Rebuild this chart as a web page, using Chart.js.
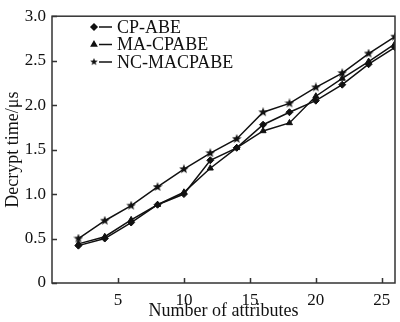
<!DOCTYPE html>
<html>
<head>
<meta charset="utf-8">
<script src="https://cdn.jsdelivr.net/npm/chart.js@4"></script>
<style>
  html, body { margin: 0; padding: 0; background: #fff; }
  #wrap { width: 400px; height: 322px; }
</style>
</head>
<body>
<div id="wrap"><canvas id="decryptChart" width="400" height="322"></canvas></div>
<script>
// attribute counts and decryption time (μs) for each scheme
const attributes = [2, 4, 6, 8, 10, 12, 14, 16, 18, 20, 22, 24, 26];
const cpAbe     = [0.42, 0.50, 0.68, 0.88, 1.00, 1.38, 1.52, 1.78, 1.92, 2.05, 2.23, 2.46, 2.65];
const maCpabe   = [0.44, 0.52, 0.71, 0.88, 1.02, 1.29, 1.52, 1.71, 1.80, 2.10, 2.30, 2.49, 2.69];
const ncMacpabe = [0.50, 0.70, 0.87, 1.08, 1.28, 1.46, 1.62, 1.92, 2.02, 2.20, 2.36, 2.58, 2.77];
const seriesNames = ['CP-ABE', 'MA-CPABE', 'NC-MACPABE'];
const xTicks = [5, 10, 15, 20, 25];
const yTicks = [0, 0.5, 1.0, 1.5, 2.0, 2.5, 3.0];

const FONT = '"Liberation Serif", "Times New Roman", serif';
const INK = '#111';

// small filled five-point star used as a marker
function makeStar(size) {
    const c = document.createElement('canvas');
    c.width = size; c.height = size;
    const g = c.getContext('2d');
    const cx = size / 2, cy = size / 2, R = size / 2, r = R * 0.42;
    g.beginPath();
    for (let i = 0; i < 10; i++) {
        const rad = i % 2 === 0 ? R : r;
        const a = -Math.PI / 2 + i * Math.PI / 5;
        g.lineTo(cx + rad * Math.cos(a), cy + rad * Math.sin(a));
    }
    g.closePath();
    g.fillStyle = INK;
    g.fill();
    return c;
}
const starImg = makeStar(10);

function toPoints(vals) {
    return attributes.map((x, i) => ({ x: x, y: vals[i] }));
}

// frame around the plot, inward tick marks, and the inline legend
const framePlugin = {
    id: 'frame',
    afterDraw(chart) {
        const { ctx, chartArea: a, scales } = chart;
        ctx.save();
        ctx.strokeStyle = '#333';
        ctx.lineWidth = 1.5;
        ctx.strokeRect(a.left, a.top, a.right - a.left, a.bottom - a.top);
        ctx.beginPath();
        xTicks.forEach(v => {
            const px = Math.round(scales.x.getPixelForValue(v)) + 0.5;
            ctx.moveTo(px, a.bottom);
            ctx.lineTo(px, a.bottom - 5);
        });
        yTicks.forEach(v => {
            const py = Math.round(scales.y.getPixelForValue(v)) + 0.5;
            ctx.moveTo(a.left, py);
            ctx.lineTo(a.left + 5, py);
        });
        ctx.stroke();

        // legend rows
        const rowsY = [27, 44.5, 62];
        chart.data.datasets.forEach((ds, i) => {
            const y = rowsY[i];
            ctx.strokeStyle = INK;
            ctx.lineWidth = 1.5;
            ctx.beginPath();
            ctx.moveTo(99, y);
            ctx.lineTo(112, y);
            ctx.stroke();
            const style = ds.pointStyle;
            if (style === 'rectRot' || style === 'triangle') {
                Chart.helpers.drawPoint(ctx, { pointStyle: style, radius: 3, borderWidth: 1 }, 94, y);
                ctx.fillStyle = INK;
                ctx.fill();
            } else {
                ctx.drawImage(starImg, 94 - 4, y - 4, 8, 8);
            }
            ctx.fillStyle = INK;
            ctx.font = '18px ' + FONT;
            ctx.textBaseline = 'middle';
            ctx.textAlign = 'left';
            ctx.fillText(ds.label, 117, y + 1);
        });
        ctx.restore();
    }
};

const lineStyle = {
    borderColor: INK,
    backgroundColor: INK,
    borderWidth: 1.5,
    pointBorderColor: INK,
    pointBackgroundColor: INK,
    pointBorderWidth: 1,
    tension: 0
};

const ctx = document.getElementById('decryptChart').getContext('2d');
const decryptChart = new Chart(ctx, {
    type: 'line',
    data: {
        datasets: [
            Object.assign({ label: seriesNames[0], data: toPoints(cpAbe), pointStyle: 'rectRot', pointRadius: 3.5 }, lineStyle),
            Object.assign({ label: seriesNames[1], data: toPoints(maCpabe), pointStyle: 'triangle', pointRadius: 3.5 }, lineStyle),
            Object.assign({ label: seriesNames[2], data: toPoints(ncMacpabe), pointStyle: starImg, pointRadius: 4 }, lineStyle)
        ]
    },
    options: {
        responsive: false,
        animation: false,
        layout: { padding: { top: 6, right: 5, left: 0, bottom: 0 } },
        plugins: {
            legend: { display: false },
            tooltip: { enabled: false }
        },
        scales: {
            x: {
                type: 'linear',
                min: 0,
                max: 26,
                grid: { display: false, drawTicks: false },
                border: { display: false },
                afterFit(scale) { scale.height = 39; },
                afterBuildTicks(scale) { scale.ticks = xTicks.map(v => ({ value: v })); },
                ticks: {
                    color: INK,
                    font: { family: FONT, size: 17 },
                    padding: 7,
                    maxRotation: 0
                },
                title: {
                    display: true,
                    text: 'Number of attributes',
                    color: INK,
                    font: { family: FONT, size: 18 },
                    padding: { top: 0, bottom: 0 }
                }
            },
            y: {
                min: 0,
                max: 3,
                grid: { display: false, drawTicks: false },
                border: { display: false },
                afterFit(scale) { scale.width = 52; },
                afterBuildTicks(scale) { scale.ticks = yTicks.map(v => ({ value: v })); },
                ticks: {
                    color: INK,
                    font: { family: FONT, size: 17 },
                    padding: 6,
                    callback: v => (v === 0 ? '0' : v.toFixed(1))
                },
                title: {
                    display: true,
                    text: 'Decrypt time/μs',
                    color: INK,
                    font: { family: FONT, size: 18 },
                    padding: { top: 2, bottom: 0 }
                }
            }
        }
    },
    plugins: [framePlugin]
});
</script>
</body>
</html>
